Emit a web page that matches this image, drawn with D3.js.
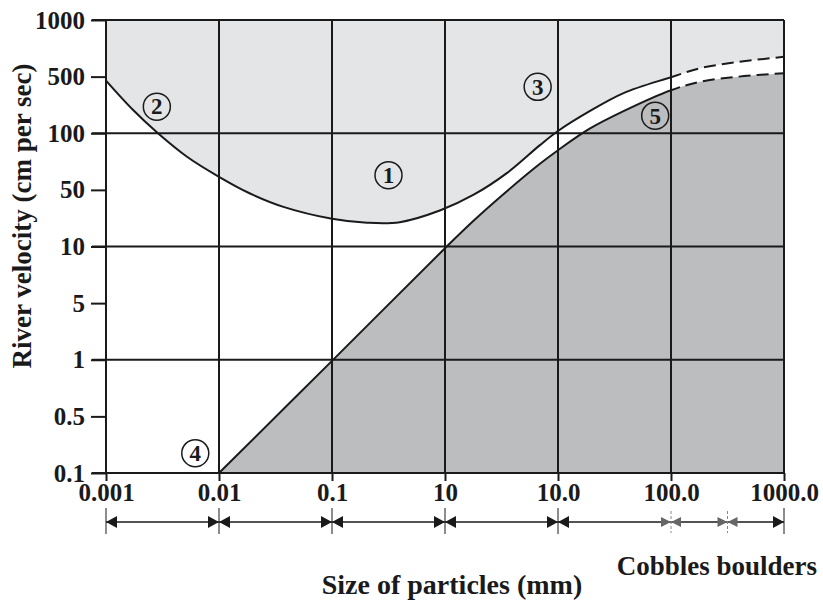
<!DOCTYPE html>
<html>
<head>
<meta charset="utf-8">
<script src="https://cdn.jsdelivr.net/npm/d3@7"></script>
<style>
  body { margin: 0; background: #fff; }
  svg { display: block; }
  text { font-family: "Liberation Serif", "DejaVu Serif", serif; font-weight: bold; fill: #1a1a1a; }
  .axis path { display: none; }
  .axis line { stroke: #1a1a1a; stroke-width: 2; }
  .axis text { font-size: 25px; }
</style>
</head>
<body>
<script>
// Size of particles (mm) -- labels are printed as on the original
var xLabels = ["0.001", "0.01", "0.1", "10", "10.0", "100.0", "1000.0"];
// River velocity (cm per sec)
var yLabels = ["0.1", "0.5", "1", "5", "10", "50", "100", "500", "1000"];
var yGrid = [0, 2, 4, 6, 8];

// curves in label-index units: [x position, y position]
var erosion = [[0, 6.93], [0.24, 6.41], [0.46, 6.0], [0.72, 5.58], [1, 5.23], [1.27, 4.94],
               [1.57, 4.7], [2, 4.49], [2.31, 4.42], [2.6, 4.43], [2.96, 4.64], [3.25, 4.91],
               [3.55, 5.3], [3.84, 5.79], [4, 6.04], [4.28, 6.39], [4.58, 6.71], [5, 6.99],
               [5.26, 7.15], [5.6, 7.26], [6, 7.35]];
var deposition = [[1, 0], [2, 1.98], [3, 3.97], [3.25, 4.45], [3.55, 4.98], [3.84, 5.46],
                  [4, 5.7], [4.28, 6.08], [4.58, 6.39], [5, 6.76], [5.26, 6.91], [5.6, 7.0], [6, 7.06]];
var dashFrom = 5; // beyond this x the curves are uncertain (dashed)

var zones = [
  {n: "1", x: 2.5, y: 5.26},
  {n: "2", x: 0.45, y: 6.47},
  {n: "3", x: 3.82, y: 6.82},
  {n: "4", x: 0.79, y: 0.35},
  {n: "5", x: 4.86, y: 6.31}
];

var spans = [[0, 1], [1, 2], [2, 3], [3, 4], [4, 6]];
var faintMarks = [5, 5.5];

var w = 823, h = 605;

var xScale = d3.scaleLinear().domain([0, 6]).range([106, 784]);
var yScale = d3.scaleLinear().domain([0, 8]).range([473, 20]);

var svg = d3.select("body").append("svg")
  .attr("width", w)
  .attr("height", h);

var defs = svg.append("defs");
defs.append("clipPath").attr("id", "solidPart")
  .append("rect")
  .attr("x", 0).attr("y", 0)
  .attr("width", xScale(dashFrom)).attr("height", h);
defs.append("clipPath").attr("id", "dashPart")
  .append("rect")
  .attr("x", xScale(dashFrom)).attr("y", 0)
  .attr("width", w - xScale(dashFrom)).attr("height", h);

var curve = d3.curveCatmullRom.alpha(0.5);

var topArea = d3.area()
  .x(function(d) { return xScale(d[0]); })
  .y0(yScale(8))
  .y1(function(d) { return yScale(d[1]); })
  .curve(curve);

var bottomArea = d3.area()
  .x(function(d) { return xScale(d[0]); })
  .y0(yScale(0))
  .y1(function(d) { return yScale(d[1]); })
  .curve(curve);

var line = d3.line()
  .x(function(d) { return xScale(d[0]); })
  .y(function(d) { return yScale(d[1]); })
  .curve(curve);

// shaded zones
svg.append("path").datum(erosion)
  .attr("d", topArea)
  .attr("fill", "#e4e5e7");
svg.append("path").datum(deposition)
  .attr("d", bottomArea)
  .attr("fill", "#bcbdbf");

// grid
svg.append("g").selectAll("line")
  .data(yGrid)
  .join("line")
  .attr("x1", 92).attr("x2", xScale(6))
  .attr("y1", function(d) { return yScale(d); })
  .attr("y2", function(d) { return yScale(d); })
  .attr("stroke", "#1a1a1a").attr("stroke-width", 2);

svg.append("g").selectAll("line")
  .data(d3.range(xLabels.length))
  .join("line")
  .attr("x1", function(d) { return xScale(d); })
  .attr("x2", function(d) { return xScale(d); })
  .attr("y1", yScale(8)).attr("y2", yScale(0))
  .attr("stroke", "#1a1a1a").attr("stroke-width", 2);

// curves
[erosion, deposition].forEach(function(c) {
  svg.append("path").datum(c)
    .attr("d", line)
    .attr("fill", "none")
    .attr("stroke", "#1a1a1a")
    .attr("stroke-width", 2)
    .attr("clip-path", "url(#solidPart)");
  svg.append("path").datum(c)
    .attr("d", line)
    .attr("fill", "none")
    .attr("stroke", "#1a1a1a")
    .attr("stroke-width", 2)
    .attr("stroke-dasharray", "12,6")
    .attr("clip-path", "url(#dashPart)");
});

// axes
var xAxis = d3.axisBottom(xScale)
  .tickValues(d3.range(xLabels.length))
  .tickFormat(function(i) { return xLabels[i]; })
  .tickSize(8)
  .tickPadding(2);

var yAxis = d3.axisLeft(yScale)
  .tickValues(d3.range(yLabels.length))
  .tickFormat(function(i) { return yLabels[i]; })
  .tickSize(15)
  .tickPadding(6);

svg.append("g")
  .attr("class", "axis")
  .attr("transform", "translate(0," + yScale(0) + ")")
  .call(xAxis);

svg.append("g")
  .attr("class", "axis")
  .attr("transform", "translate(" + xScale(0) + ",0)")
  .call(yAxis);

// zone numbers
var z = svg.append("g").selectAll("g")
  .data(zones)
  .join("g")
  .attr("transform", function(d) { return "translate(" + xScale(d.x) + "," + yScale(d.y) + ")"; });
z.append("circle")
  .attr("r", 13.5)
  .attr("fill", "none")
  .attr("stroke", "#1a1a1a")
  .attr("stroke-width", 1.5);
z.append("text")
  .attr("text-anchor", "middle")
  .attr("dy", "0.34em")
  .style("font-size", "23px")
  .text(function(d) { return d.n; });

// size class arrows
var ay = 522;
var arrows = svg.append("g");
arrows.selectAll("line.span")
  .data(spans)
  .join("line")
  .attr("class", "span")
  .attr("x1", function(d) { return xScale(d[0]); })
  .attr("x2", function(d) { return xScale(d[1]); })
  .attr("y1", ay).attr("y2", ay)
  .attr("stroke", "#1a1a1a").attr("stroke-width", 1.3);

var heads = [];
spans.forEach(function(s) {
  heads.push({x: s[0], dir: -1});
  heads.push({x: s[1], dir: 1});
});
arrows.selectAll("path.head")
  .data(heads)
  .join("path")
  .attr("class", "head")
  .attr("d", function(d) {
    var x = xScale(d.x);
    var l = 11 * -d.dir;
    return "M" + x + "," + ay + "L" + (x + l) + "," + (ay - 6) + "L" + (x + l) + "," + (ay + 6) + "Z";
  })
  .attr("fill", "#1a1a1a");

arrows.selectAll("line.sep")
  .data(d3.range(xLabels.length).filter(function(i) { return i !== 5; }))
  .join("line")
  .attr("class", "sep")
  .attr("x1", function(d) { return xScale(d); })
  .attr("x2", function(d) { return xScale(d); })
  .attr("y1", 508).attr("y2", 534)
  .attr("stroke", "#1a1a1a").attr("stroke-width", 1);

// faint markers in the cobbles/boulders span
var faint = arrows.selectAll("g.faint")
  .data(faintMarks)
  .join("g")
  .attr("class", "faint")
  .attr("transform", function(d) { return "translate(" + xScale(d) + "," + ay + ")"; });
faint.append("path")
  .attr("d", "M0,0L-10,-5L-10,5Z M0,0L10,-5L10,5Z")
  .attr("fill", "#666");
faint.append("line")
  .attr("y1", -11).attr("y2", 11)
  .attr("stroke", "#888").attr("stroke-width", 1)
  .attr("stroke-dasharray", "3,2");

// titles
svg.append("text")
  .attr("x", 817).attr("y", 575)
  .attr("text-anchor", "end")
  .style("font-size", "27px")
  .text("Cobbles boulders");

svg.append("text")
  .attr("x", 452).attr("y", 594)
  .attr("text-anchor", "middle")
  .style("font-size", "28px")
  .text("Size of particles (mm)");

svg.append("text")
  .attr("transform", "translate(31,216) rotate(-90)")
  .attr("text-anchor", "middle")
  .style("font-size", "27px")
  .text("River velocity (cm per sec)");
</script>
</body>
</html>
